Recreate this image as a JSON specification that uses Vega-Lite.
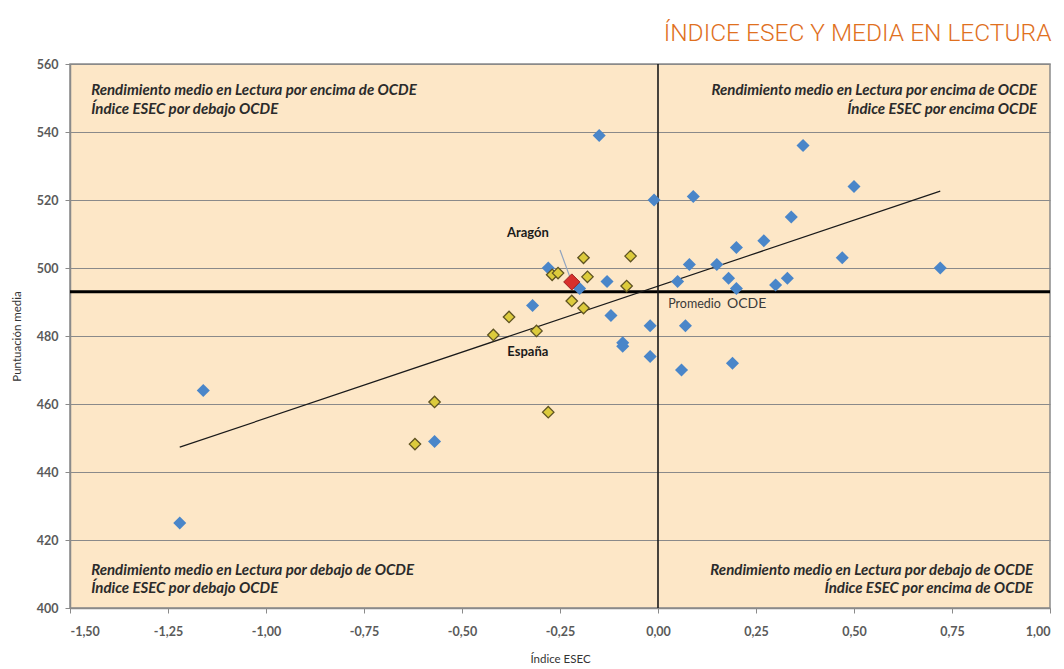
{
  "$schema": "https://vega.github.io/schema/vega-lite/v6.json",
  "autosize": "none",
  "width": 980,
  "height": 544,
  "padding": {"left": 70, "top": 64, "right": 14, "bottom": 61},
  "background": "white",
  "title": {
    "text": "ÍNDICE ESEC Y MEDIA EN LECTURA",
    "anchor": "end",
    "color": "#e0701e",
    "font": "Roboto",
    "fontSize": 24.5,
    "fontWeight": 300,
    "offset": 12
  },
  "datasets": {
    "paises": [
      {"pais": "OCDE", "grupo": "OCDE", "x": -1.22, "y": 425},
      {"pais": "OCDE", "grupo": "OCDE", "x": -1.16, "y": 464},
      {"pais": "OCDE", "grupo": "OCDE", "x": -0.57, "y": 449},
      {"pais": "OCDE", "grupo": "OCDE", "x": -0.15, "y": 539},
      {"pais": "OCDE", "grupo": "OCDE", "x": -0.01, "y": 520},
      {"pais": "OCDE", "grupo": "OCDE", "x": 0.09, "y": 521},
      {"pais": "OCDE", "grupo": "OCDE", "x": 0.37, "y": 536},
      {"pais": "OCDE", "grupo": "OCDE", "x": 0.5, "y": 524},
      {"pais": "OCDE", "grupo": "OCDE", "x": 0.72, "y": 500},
      {"pais": "OCDE", "grupo": "OCDE", "x": 0.47, "y": 503},
      {"pais": "OCDE", "grupo": "OCDE", "x": 0.34, "y": 515},
      {"pais": "OCDE", "grupo": "OCDE", "x": 0.27, "y": 508},
      {"pais": "OCDE", "grupo": "OCDE", "x": 0.2, "y": 506},
      {"pais": "OCDE", "grupo": "OCDE", "x": 0.33, "y": 497},
      {"pais": "OCDE", "grupo": "OCDE", "x": 0.3, "y": 495},
      {"pais": "OCDE", "grupo": "OCDE", "x": 0.15, "y": 501},
      {"pais": "OCDE", "grupo": "OCDE", "x": 0.18, "y": 497},
      {"pais": "OCDE", "grupo": "OCDE", "x": 0.2, "y": 494},
      {"pais": "OCDE", "grupo": "OCDE", "x": 0.08, "y": 501},
      {"pais": "OCDE", "grupo": "OCDE", "x": 0.05, "y": 496},
      {"pais": "OCDE", "grupo": "OCDE", "x": -0.28, "y": 500},
      {"pais": "OCDE", "grupo": "OCDE", "x": -0.32, "y": 489},
      {"pais": "OCDE", "grupo": "OCDE", "x": -0.13, "y": 496},
      {"pais": "OCDE", "grupo": "OCDE", "x": -0.12, "y": 486},
      {"pais": "OCDE", "grupo": "OCDE", "x": -0.09, "y": 478},
      {"pais": "OCDE", "grupo": "OCDE", "x": -0.09, "y": 477},
      {"pais": "OCDE", "grupo": "OCDE", "x": -0.02, "y": 483},
      {"pais": "OCDE", "grupo": "OCDE", "x": -0.02, "y": 474},
      {"pais": "OCDE", "grupo": "OCDE", "x": 0.07, "y": 483},
      {"pais": "OCDE", "grupo": "OCDE", "x": 0.06, "y": 470},
      {"pais": "OCDE", "grupo": "OCDE", "x": 0.19, "y": 472},
      {"pais": "OCDE", "grupo": "OCDE", "x": -0.2, "y": 494},
      {"pais": "CCAA", "grupo": "CCAA", "x": -0.19, "y": 503},
      {"pais": "CCAA", "grupo": "CCAA", "x": -0.07, "y": 503.5},
      {"pais": "CCAA", "grupo": "CCAA", "x": -0.27, "y": 498},
      {"pais": "CCAA", "grupo": "CCAA", "x": -0.255, "y": 498.5},
      {"pais": "CCAA", "grupo": "CCAA", "x": -0.18, "y": 497.4},
      {"pais": "CCAA", "grupo": "CCAA", "x": -0.08, "y": 494.7},
      {"pais": "CCAA", "grupo": "CCAA", "x": -0.22, "y": 490.3},
      {"pais": "CCAA", "grupo": "CCAA", "x": -0.19, "y": 488.2},
      {"pais": "CCAA", "grupo": "CCAA", "x": -0.38, "y": 485.6},
      {"pais": "CCAA", "grupo": "CCAA", "x": -0.42, "y": 480.3},
      {"pais": "España", "grupo": "CCAA", "x": -0.31, "y": 481.5},
      {"pais": "CCAA", "grupo": "CCAA", "x": -0.57, "y": 460.6},
      {"pais": "CCAA", "grupo": "CCAA", "x": -0.62, "y": 448.2},
      {"pais": "CCAA", "grupo": "CCAA", "x": -0.28, "y": 457.6},
      {"pais": "Aragón", "grupo": "Aragón", "x": -0.22, "y": 495.9}
    ],
    "tendencia": [
      {"x": -1.22, "y": 447.3},
      {"x": 0.72, "y": 522.6}
    ],
    "rotulos_izq": [
      {"x": -1.446, "y": 550.8, "texto": "Rendimiento medio en Lectura por encima de OCDE\nÍndice ESEC por debajo OCDE"},
      {"x": -1.446, "y": 409.8, "texto": "Rendimiento medio en Lectura por debajo de OCDE\nÍndice ESEC por debajo OCDE"}
    ],
    "rotulos_der": [
      {"x": 0.967, "y": 550.8, "texto": "Rendimiento medio en Lectura por encima de OCDE\nÍndice ESEC por encima OCDE"},
      {"x": 0.957, "y": 409.8, "texto": "Rendimiento medio en Lectura por debajo de OCDE\nÍndice ESEC por encima de OCDE"}
    ]
  },
  "layer": [
    {
      "data": {"values": [{"y": 493}]},
      "mark": {"type": "rule", "color": "#000000", "strokeWidth": 3},
      "encoding": {"y": {"field": "y", "type": "quantitative"}}
    },
    {
      "data": {"values": [{"x": 0}]},
      "mark": {"type": "rule", "color": "#1a1a1a", "strokeWidth": 1.6},
      "encoding": {"x": {"field": "x", "type": "quantitative"}}
    },
    {
      "data": {"name": "tendencia"},
      "mark": {"type": "line", "color": "#1a1a1a", "strokeWidth": 1.2},
      "encoding": {
        "x": {"field": "x", "type": "quantitative"},
        "y": {"field": "y", "type": "quantitative"}
      }
    },
    {
      "data": {"values": [{"x": -0.25, "y": 505.3, "x2": -0.223, "y2": 496.8}]},
      "mark": {"type": "rule", "color": "#8fa3bf", "strokeWidth": 1.2},
      "encoding": {
        "x": {"field": "x", "type": "quantitative"},
        "y": {"field": "y", "type": "quantitative"},
        "x2": {"field": "x2"},
        "y2": {"field": "y2"}
      }
    },
    {
      "data": {"name": "paises"},
      "transform": [{"filter": "datum.grupo === 'OCDE'"}],
      "mark": {"type": "point", "shape": "diamond", "filled": true, "size": 170, "fill": "#4a86c9", "strokeWidth": 0, "opacity": 1},
      "encoding": {
        "x": {
          "field": "x",
          "type": "quantitative",
          "title": "Índice ESEC",
          "scale": {"domain": [-1.5, 1], "nice": false, "zero": false},
          "axis": {
            "values": [-1.5, -1.25, -1, -0.75, -0.5, -0.25, 0, 0.25, 0.5, 0.75, 1],
            "labelExpr": "replace(replace(format(datum.value, '.2f'), '.', ','), '\u2212', '-')",
            "grid": false,
            "labelPadding": 12,
            "titlePadding": 16
          }
        },
        "y": {
          "field": "y",
          "type": "quantitative",
          "title": "Puntuación media",
          "scale": {"domain": [400, 560], "nice": false, "zero": false},
          "axis": {
            "values": [400, 420, 440, 460, 480, 500, 520, 540, 560],
            "grid": true,
            "labelPadding": 7,
            "titlePadding": 14
          }
        }
      }
    },
    {
      "data": {"name": "paises"},
      "transform": [{"filter": "datum.grupo === 'CCAA'"}],
      "mark": {"type": "point", "shape": "diamond", "filled": true, "size": 130, "fill": "#dccb3c", "stroke": "#5e5322", "strokeWidth": 1.3, "opacity": 1},
      "encoding": {
        "x": {"field": "x", "type": "quantitative"},
        "y": {"field": "y", "type": "quantitative"}
      }
    },
    {
      "data": {"name": "paises"},
      "transform": [{"filter": "datum.grupo === 'Aragón'"}],
      "mark": {"type": "point", "shape": "diamond", "filled": true, "size": 260, "fill": "#d8302d", "stroke": "#9a1d1d", "strokeWidth": 1, "opacity": 1},
      "encoding": {
        "x": {"field": "x", "type": "quantitative"},
        "y": {"field": "y", "type": "quantitative"}
      }
    },
    {
      "data": {"name": "rotulos_izq"},
      "mark": {"type": "text", "align": "left", "baseline": "alphabetic", "lineBreak": "\n", "lineHeight": 18.5, "font": "Lato", "fontStyle": "italic", "fontWeight": "bold", "fontSize": 15, "color": "#2b2b2b"},
      "encoding": {
        "x": {"field": "x", "type": "quantitative"},
        "y": {"field": "y", "type": "quantitative"},
        "text": {"field": "texto"}
      }
    },
    {
      "data": {"name": "rotulos_der"},
      "mark": {"type": "text", "align": "right", "baseline": "alphabetic", "lineBreak": "\n", "lineHeight": 18.5, "font": "Lato", "fontStyle": "italic", "fontWeight": "bold", "fontSize": 15, "color": "#2b2b2b"},
      "encoding": {
        "x": {"field": "x", "type": "quantitative"},
        "y": {"field": "y", "type": "quantitative"},
        "text": {"field": "texto"}
      }
    },
    {
      "data": {"values": [
        {"x": -0.332, "y": 509.1, "texto": "Aragón"},
        {"x": -0.332, "y": 474.1, "texto": "España"}
      ]},
      "mark": {"type": "text", "align": "center", "baseline": "alphabetic", "font": "Lato", "fontWeight": "bold", "fontSize": 13, "color": "#1a1a1a"},
      "encoding": {
        "x": {"field": "x", "type": "quantitative"},
        "y": {"field": "y", "type": "quantitative"},
        "text": {"field": "texto"}
      }
    },
    {
      "data": {"values": [{"x": 0.026, "y": 488.2, "texto": "Promedio"}]},
      "mark": {"type": "text", "align": "left", "baseline": "alphabetic", "font": "Lato", "fontSize": 12.5, "color": "#3a3a3a"},
      "encoding": {
        "x": {"field": "x", "type": "quantitative"},
        "y": {"field": "y", "type": "quantitative"},
        "text": {"field": "texto"}
      }
    },
    {
      "data": {"values": [{"x": 0.176, "y": 488.2, "texto": "OCDE"}]},
      "mark": {"type": "text", "align": "left", "baseline": "alphabetic", "font": "Lato", "fontSize": 14, "color": "#3a3a3a"},
      "encoding": {
        "x": {"field": "x", "type": "quantitative"},
        "y": {"field": "y", "type": "quantitative"},
        "text": {"field": "texto"}
      }
    }
  ],
  "config": {
    "view": {"fill": "#fde7c7", "stroke": "#8a8a8a", "strokeWidth": 1.5},
    "axis": {
      "domainColor": "#8a8a8a",
      "domainWidth": 1.5,
      "tickColor": "#8a8a8a",
      "tickSize": 5,
      "gridColor": "#8a8a8a",
      "gridWidth": 1.2,
      "labelFont": "Lato",
      "labelFontSize": 12.5,
      "labelFontWeight": "bold",
      "labelColor": "#5a5a5a",
      "titleFont": "Lato",
      "titleFontSize": 11.5,
      "titleFontWeight": "normal",
      "titleColor": "#333333"
    }
  }
}
